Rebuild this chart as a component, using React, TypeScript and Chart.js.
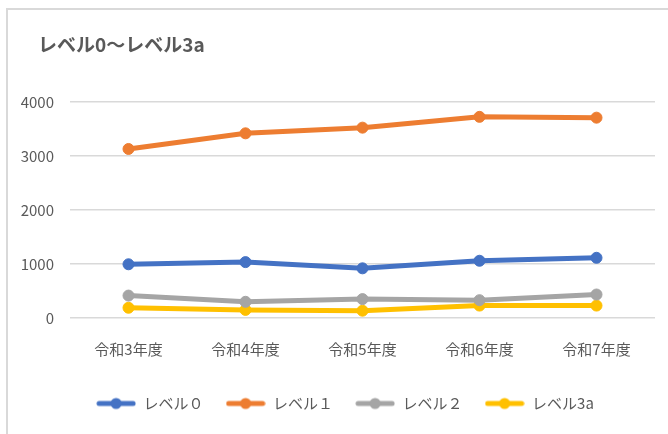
import React, { useEffect, useRef } from "react";
import { Chart, registerables } from "chart.js";

Chart.register(...registerables);

const TITLE = "レベル0～レベル3a";
const CATEGORIES = ["令和3年度", "令和4年度", "令和5年度", "令和6年度", "令和7年度"];
const SERIES_NAMES = ["レベル０", "レベル１", "レベル２", "レベル3a"];
const LEVEL0 = [995, 1035, 920, 1060, 1115];
const LEVEL1 = [3130, 3420, 3525, 3725, 3710];
const LEVEL2 = [415, 300, 350, 330, 435];
const LEVEL3A = [190, 150, 135, 230, 230];
const COLORS = ["#4472C4", "#ED7D31", "#A5A5A5", "#FFC000"];
const Y_TICKS = [0, 1000, 2000, 3000, 4000];

const FONT = "'Noto Sans CJK JP', 'Noto Sans', sans-serif";
const TEXT = "#595959";

function makeMarker(color: string): HTMLCanvasElement {
  const c = document.createElement("canvas");
  c.width = 40;
  c.height = 14;
  const ctx = c.getContext("2d")!;
  ctx.strokeStyle = color;
  ctx.lineWidth = 5;
  ctx.lineCap = "round";
  ctx.beginPath();
  ctx.moveTo(3, 7);
  ctx.lineTo(37, 7);
  ctx.stroke();
  ctx.fillStyle = color;
  ctx.beginPath();
  ctx.arc(20, 7, 5.5, 0, Math.PI * 2);
  ctx.fill();
  return c;
}

const framePlugin = {
  id: "frame",
  beforeDraw(chart: any) {
    const ctx = chart.ctx;
    ctx.save();
    ctx.fillStyle = "#ffffff";
    ctx.fillRect(0, 0, chart.width, chart.height);
    ctx.strokeStyle = "#D9D9D9";
    ctx.lineWidth = 2;
    ctx.beginPath();
    ctx.moveTo(7, chart.height + 5);
    ctx.lineTo(7, 9);
    ctx.lineTo(chart.width + 5, 9);
    ctx.stroke();
    ctx.fillStyle = TEXT;
    ctx.font = `bold 19px ${FONT}`;
    ctx.textBaseline = "middle";
    ctx.textAlign = "left";
    ctx.fillText(TITLE, 38, 45);
    ctx.restore();
  },
};

export default function App() {
  const ref = useRef<HTMLCanvasElement>(null);
  useEffect(() => {
    const data = [LEVEL0, LEVEL1, LEVEL2, LEVEL3A];
    const chart = new Chart(ref.current!, {
      type: "line",
      data: {
        labels: CATEGORIES,
        datasets: data.map((d, i) => ({
          label: SERIES_NAMES[i],
          data: d,
          borderColor: COLORS[i],
          backgroundColor: COLORS[i],
          borderWidth: 5,
          pointRadius: 5.5,
          pointBorderWidth: 1,
          pointBackgroundColor: COLORS[i],
          pointBorderColor: COLORS[i],
          pointStyle: "circle",
          tension: 0,
          fill: false,
        })),
      },
      options: {
        responsive: false,
        animation: false,
        devicePixelRatio: 1,
        layout: { padding: { top: 102, left: 0, right: 0, bottom: 13 } },
        plugins: {
          title: { display: false },
          tooltip: { enabled: false },
          legend: {
            position: "bottom",
            labels: {
              usePointStyle: true,
              pointStyleWidth: 40,
              padding: 22,
              color: TEXT,
              font: { family: FONT, size: 15 },
              generateLabels: (chart: any) =>
                chart.data.datasets.map((ds: any, i: number) => ({
                  text: ds.label,
                  fillStyle: COLORS[i],
                  strokeStyle: COLORS[i],
                  lineWidth: 0,
                  pointStyle: makeMarker(COLORS[i]),
                  fontColor: TEXT,
                  datasetIndex: i,
                  hidden: false,
                })),
            },
          },
        },
        scales: {
          x: {
            offset: true,
            grid: { display: false, drawTicks: false },
            border: { display: false },
            ticks: {
              color: TEXT,
              padding: 22,
              maxRotation: 0,
              font: { family: FONT, size: 15 },
            },
            afterFit: (s: any) => {
              s.height = 56;
            },
          },
          y: {
            min: 0,
            max: 4000,
            afterBuildTicks: (s: any) => {
              s.ticks = Y_TICKS.map((v) => ({ value: v }));
            },
            grid: { color: "#D9D9D9", lineWidth: 1.5, drawTicks: false },
            border: { display: false },
            ticks: {
              color: TEXT,
              padding: 16,
              font: { family: FONT, size: 15 },
              callback: (v: any) => String(v),
            },
            afterFit: (s: any) => {
              s.width = 70;
            },
          },
          y2: {
            position: "right",
            display: true,
            grid: { display: false, drawTicks: false },
            border: { display: false },
            ticks: { display: false },
            afterFit: (s: any) => {
              s.width = 35;
            },
          },
        },
      },
      plugins: [framePlugin],
    });
    return () => chart.destroy();
  }, []);
  return (
    <div
      style={{
        position: "fixed",
        left: 0,
        top: 0,
        width: 668,
        height: 434,
        overflow: "hidden",
        background: "#fff",
      }}
    >
      <canvas ref={ref} width={690} height={434} style={{ width: 690, height: 434, display: "block" }} />
    </div>
  );
}
